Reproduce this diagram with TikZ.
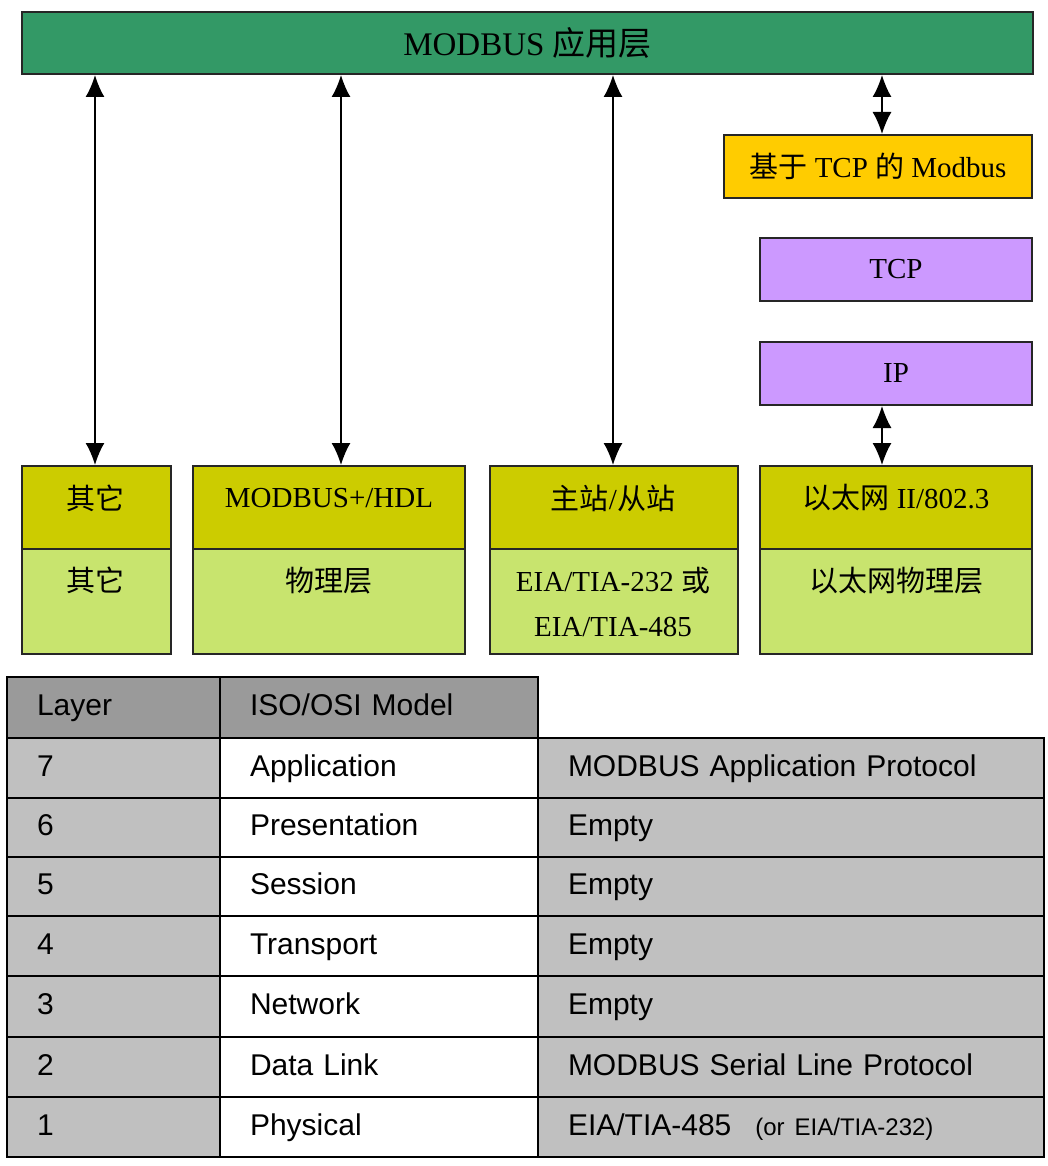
\documentclass[tikz,border=0pt]{standalone}
\usepackage{fontspec}
\setmainfont{Liberation Serif}
\newfontfamily\cjk{Noto Sans CJK SC}
\newfontfamily\tabfont{Liberation Sans}
\usetikzlibrary{arrows.meta}
\definecolor{appgreen}{HTML}{339966}
\definecolor{tcpyellow}{HTML}{FFCC00}
\definecolor{lilac}{HTML}{CC99FF}
\definecolor{olive}{HTML}{CCCC00}
\definecolor{lightlime}{HTML}{C8E46E}
\definecolor{hdrgrey}{HTML}{9A9A9A}
\definecolor{cellgrey}{HTML}{C0C0C0}
\begin{document}
\begin{tikzpicture}[x=1pt,y=-1pt,
  box/.style={draw=black!85,line width=2pt,anchor=north west,inner sep=0pt,
    font=\fontsize{29}{34}\selectfont},
  lbl/.style={inner sep=0pt,font=\fontsize{29}{45}\selectfont,align=center},
  dbl/.style={{Latex[length=22pt,width=19pt]}-{Latex[length=22pt,width=19pt]},line width=1.5pt},
  cell/.style={draw=black,line width=2pt,anchor=north west,inner xsep=30pt,inner ysep=0pt,
    align=left,text height=22pt,text depth=6pt,font=\tabfont\fontsize{30}{34}\selectfont},
  c1/.style={cell,fill=cellgrey,text width=153pt,minimum width=213pt},
  c2/.style={cell,fill=white,text width=258pt,minimum width=318pt},
  c3/.style={cell,fill=cellgrey,text width=446pt,minimum width=506pt},
]
\useasboundingbox (0,0) rectangle (1047,1166);

% ---- upper diagram ----
\node[box,fill=appgreen,minimum width=1011pt,minimum height=62pt,font=\fontsize{33}{38}\selectfont] (app) at (21,11) {MODBUS {\cjk 应用层}};
\node[box,fill=tcpyellow,minimum width=308pt,minimum height=63pt] (mtcp) at (723,134) {{\cjk 基于} TCP {\cjk 的} Modbus};
\node[box,fill=lilac,minimum width=272pt,minimum height=63pt] (tcp) at (759,237) {TCP};
\node[box,fill=lilac,minimum width=272pt,minimum height=63pt] (ip) at (759,341) {IP};

\node[box,fill=olive,minimum width=149pt,minimum height=83pt] (o1t) at (21,465) {};
\node[box,fill=lightlime,minimum width=149pt,minimum height=105pt] (o1b) at (21,548) {};
\node[box,fill=olive,minimum width=272pt,minimum height=83pt] (m2t) at (192,465) {};
\node[box,fill=lightlime,minimum width=272pt,minimum height=105pt] (m2b) at (192,548) {};
\node[box,fill=olive,minimum width=248pt,minimum height=83pt] (s3t) at (489,465) {};
\node[box,fill=lightlime,minimum width=248pt,minimum height=105pt] (s3b) at (489,548) {};
\node[box,fill=olive,minimum width=272pt,minimum height=83pt] (e4t) at (759,465) {};
\node[box,fill=lightlime,minimum width=272pt,minimum height=105pt] (e4b) at (759,548) {};

\node[lbl] (o1tl) at (95,498) {\cjk 其它};
\node[lbl,anchor=north] (o1bl) at (95,567) {\cjk 其它};
\node[lbl] (m2tl) at (329,498) {MODBUS+/HDL};
\node[lbl,anchor=north] (m2bl) at (329,567) {\cjk 物理层};
\node[lbl] (s3tl) at (613,498) {{\cjk 主站}/{\cjk 从站}};
\node[lbl,anchor=north] (s3bl) at (613,567) {EIA/TIA-232 {\cjk 或}\\EIA/TIA-485};
\node[lbl] (e4tl) at (896,498) {{\cjk 以太网} II/802.3};
\node[lbl,anchor=north] (e4bl) at (896,567) {\cjk 以太网物理层};

\coordinate (x1) at (95,0);
\coordinate (x2) at (341,0);
\coordinate (x3) at (613,0);
\coordinate (x4) at (882,0);
\draw[dbl] (app.south -| x1) -- (o1t.north -| x1);
\draw[dbl] (app.south -| x2) -- (m2t.north -| x2);
\draw[dbl] (app.south -| x3) -- (s3t.north -| x3);
\draw[dbl] (app.south -| x4) -- (mtcp.north -| x4);
\draw[dbl] (ip.south -| x4) -- (e4t.north -| x4);

% ---- table ----
\node[c1,fill=hdrgrey,minimum height=61pt] (h1) at (6,676) {Layer};
\node[c2,fill=hdrgrey,minimum height=61pt] (h2) at (219,676) {ISO/OSI Model};

\node[c1,minimum height=60pt] (r7a) at (6,737) {7};
\node[c2,minimum height=60pt] (r7b) at (219,737) {Application};
\node[c3,minimum height=60pt] (r7c) at (537,737) {MODBUS Application Protocol};

\node[c1,minimum height=59pt] (r6a) at (6,797) {6};
\node[c2,minimum height=59pt] (r6b) at (219,797) {Presentation};
\node[c3,minimum height=59pt] (r6c) at (537,797) {Empty};

\node[c1,minimum height=59pt] (r5a) at (6,856) {5};
\node[c2,minimum height=59pt] (r5b) at (219,856) {Session};
\node[c3,minimum height=59pt] (r5c) at (537,856) {Empty};

\node[c1,minimum height=60pt] (r4a) at (6,915) {4};
\node[c2,minimum height=60pt] (r4b) at (219,915) {Transport};
\node[c3,minimum height=60pt] (r4c) at (537,915) {Empty};

\node[c1,minimum height=61pt] (r3a) at (6,975) {3};
\node[c2,minimum height=61pt] (r3b) at (219,975) {Network};
\node[c3,minimum height=61pt] (r3c) at (537,975) {Empty};

\node[c1,minimum height=60pt] (r2a) at (6,1036) {2};
\node[c2,minimum height=60pt] (r2b) at (219,1036) {Data Link};
\node[c3,minimum height=60pt] (r2c) at (537,1036) {MODBUS Serial Line Protocol};

\node[c1,minimum height=60pt] (r1a) at (6,1096) {1};
\node[c2,minimum height=60pt] (r1b) at (219,1096) {Physical};
\node[c3,minimum height=60pt] (r1c) at (537,1096) {EIA/TIA-485\hspace{24pt}{\fontsize{24}{28}\selectfont(or EIA/TIA-232)}};
\end{tikzpicture}
\end{document}
